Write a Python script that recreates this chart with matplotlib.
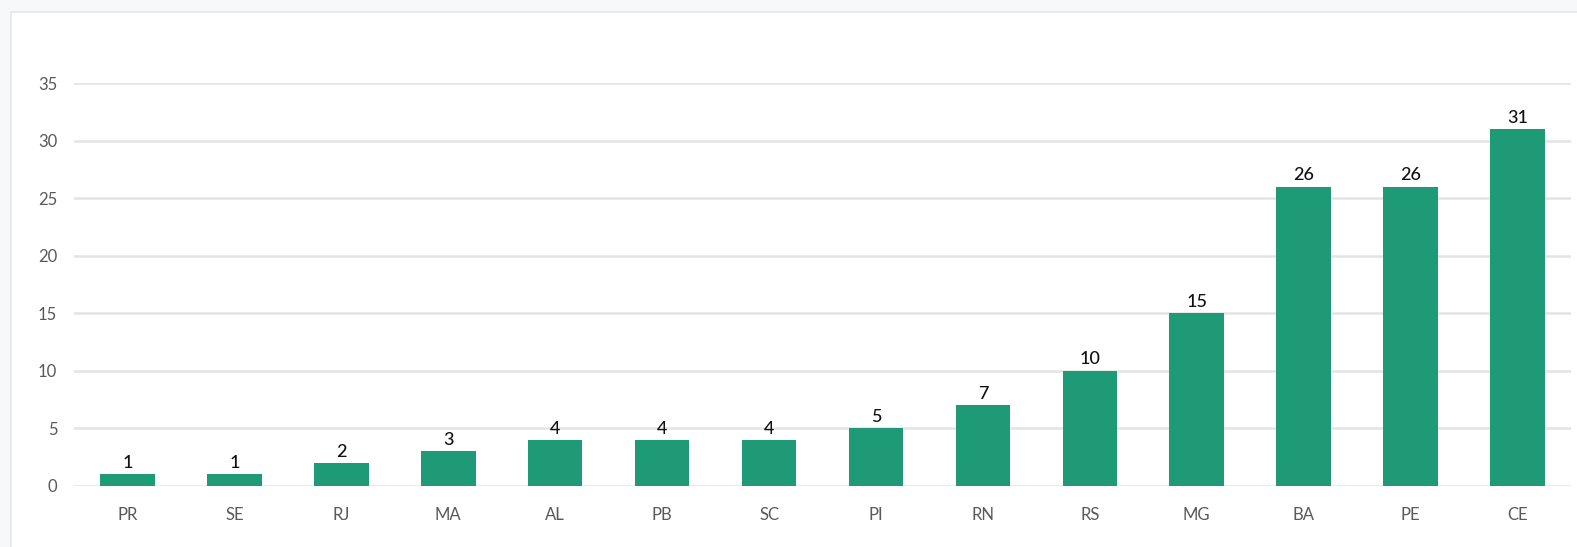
import matplotlib
matplotlib.use("Agg")
import matplotlib.pyplot as plt
from matplotlib.patches import Rectangle

states = ["PR", "SE", "RJ", "MA", "AL", "PB", "SC", "PI", "RN", "RS", "MG", "BA", "PE", "CE"]
counts = [1, 1, 2, 3, 4, 4, 4, 5, 7, 10, 15, 26, 26, 31]
yticks = [0, 5, 10, 15, 20, 25, 30, 35]

plt.rcParams['font.family'] = ['Lato', 'DejaVu Sans']

W, H = 1577, 547
fig = plt.figure(figsize=(W / 100, H / 100), dpi=100)
fig.patch.set_facecolor("#f7f8fa")
panel = Rectangle((11 / W, -0.05), 1.0, 1 - 12 / H + 0.05, transform=fig.transFigure,
                  facecolor="white", edgecolor="#e6e7ea", linewidth=1.2, zorder=0)
fig.add_artist(panel)

ax = fig.add_axes([74 / W, 1 - 486 / H, (1571 - 74) / W, (486 - 83.3) / H])
ax.set_facecolor("none")
x = list(range(len(states)))
bars = ax.bar(x, counts, width=0.51, color="#1f9a77", zorder=3)
for xi, v in zip(x, counts):
    ax.annotate(str(v), (xi, v), xytext=(0, 2.5), textcoords="offset points",
                ha="center", va="bottom", fontsize=13, color="#111111",
                fontweight="medium")

ax.set_xlim(-0.5, len(states) - 0.5)
ax.set_ylim(0, 35)
ax.set_yticks(yticks)
ax.set_xticks(x)
ax.set_xticklabels(states)
ax.grid(axis="y", color="#e4e4e4", linewidth=1.8, zorder=0)
ax.set_axisbelow(True)
for s in ax.spines.values():
    s.set_visible(False)
ax.tick_params(axis="both", length=0, colors="#595959", labelsize=12)
ax.tick_params(axis="x", pad=15)
ax.tick_params(axis="y", pad=12)

fig.savefig("out.png", dpi=100)
